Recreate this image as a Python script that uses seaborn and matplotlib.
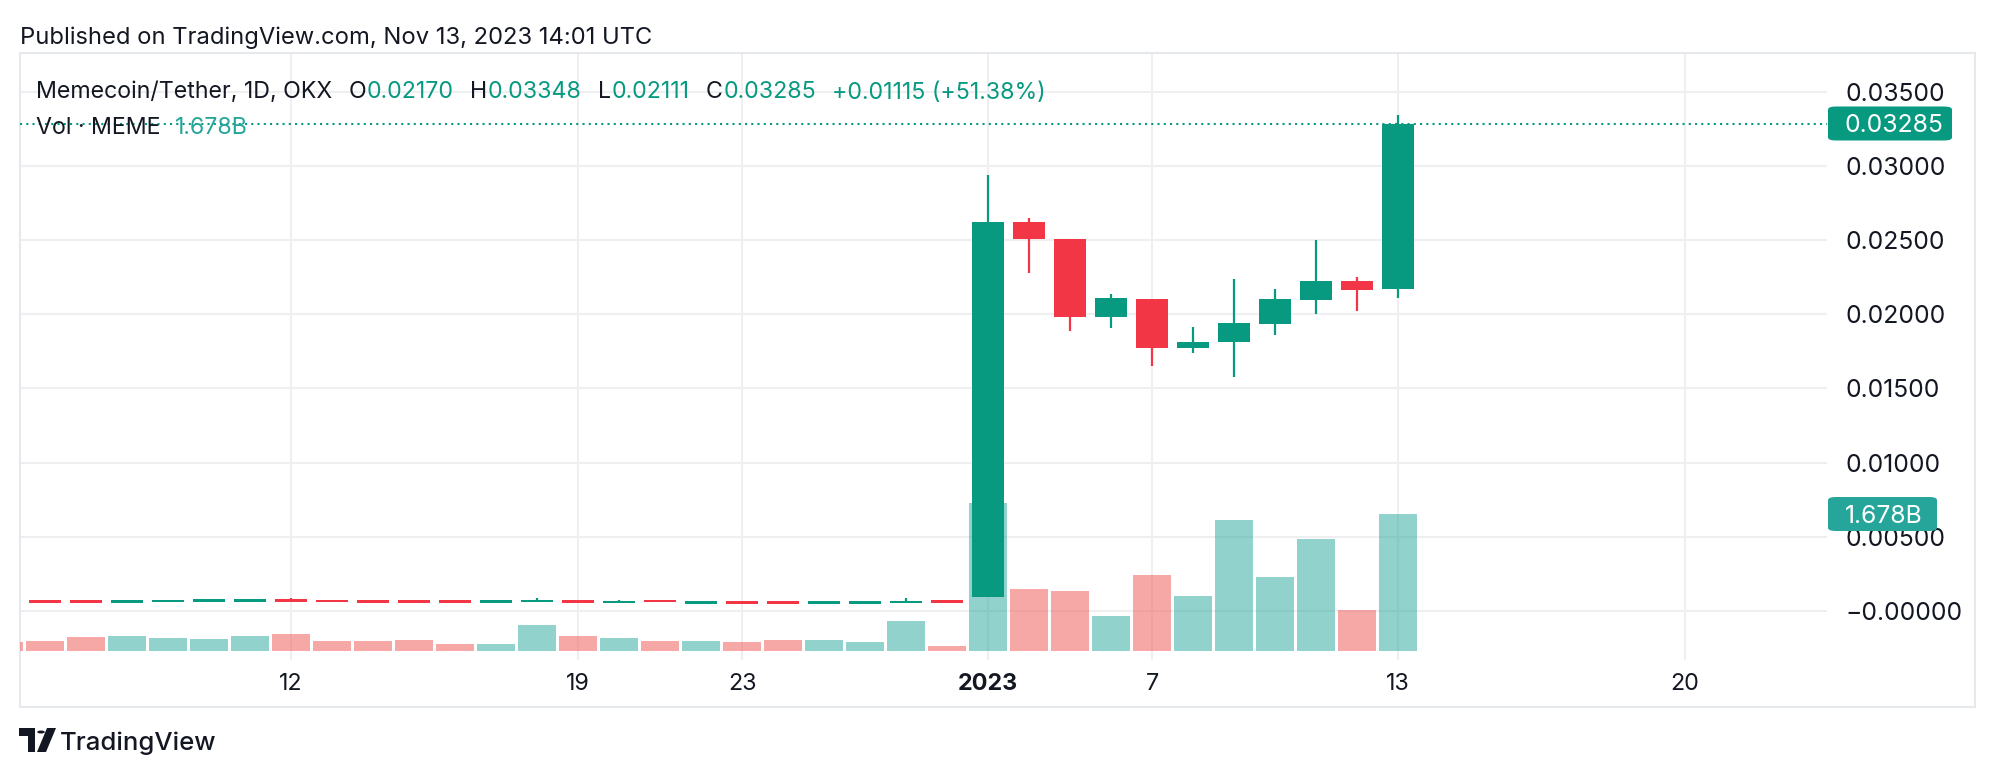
import numpy as np
import pandas as pd
import matplotlib
matplotlib.use("Agg")
import matplotlib.pyplot as plt
import seaborn as sns
from matplotlib.patches import Rectangle, FancyBboxPatch, Polygon, Circle

# ---------------- data ----------------
day_idx = list(range(-1, 34))
opens = [0.00072,
         0.00072, 0.00072, 0.00054, 0.00061, 0.00061, 0.00061, 0.00079, 0.00072,
         0.00072, 0.00072, 0.00072, 0.00054, 0.00061, 0.00072, 0.00054, 0.00066,
         0.00047, 0.00066, 0.00066, 0.00047, 0.00047, 0.00054, 0.00072,
         0.00095, 0.02623, 0.02510, 0.01984, 0.02103, 0.01775, 0.01813, 0.01937,
         0.02099, 0.02225, 0.02170]
highs = [0.00072,
         0.00072, 0.00072, 0.00072, 0.00072, 0.00079, 0.00079, 0.00086, 0.00072,
         0.00072, 0.00072, 0.00072, 0.00072, 0.00086, 0.00072, 0.00072, 0.00066,
         0.00066, 0.00066, 0.00066, 0.00066, 0.00066, 0.00086, 0.00072,
         0.02940, 0.02650, 0.02510, 0.02137, 0.02103, 0.01914, 0.02238, 0.02171,
         0.02501, 0.02252, 0.03348]
lows = [0.00054,
        0.00054, 0.00054, 0.00054, 0.00061, 0.00061, 0.00061, 0.00061, 0.00061,
        0.00054, 0.00054, 0.00054, 0.00054, 0.00061, 0.00054, 0.00054, 0.00059,
        0.00047, 0.00047, 0.00047, 0.00047, 0.00047, 0.00054, 0.00054,
        0.00090, 0.02281, 0.01889, 0.01910, 0.01653, 0.01741, 0.01579, 0.01862,
        0.02004, 0.02024, 0.02111]
closes = [0.00054,
          0.00054, 0.00054, 0.00072, 0.00072, 0.00079, 0.00079, 0.00061, 0.00061,
          0.00054, 0.00054, 0.00054, 0.00072, 0.00072, 0.00054, 0.00066, 0.00059,
          0.00066, 0.00047, 0.00047, 0.00066, 0.00066, 0.00066, 0.00054,
          0.02623, 0.02510, 0.01984, 0.02110, 0.01775, 0.01813, 0.01941, 0.02103,
          0.02225, 0.02166, 0.03285]
volumes_b = [0.11,
             0.12, 0.17, 0.18, 0.16, 0.15, 0.18, 0.21, 0.12,
             0.12, 0.13, 0.086, 0.086, 0.32, 0.18, 0.16, 0.12,
             0.12, 0.11, 0.13, 0.13, 0.11, 0.37, 0.06,
             1.81, 0.76, 0.74, 0.43, 0.93, 0.67, 1.61, 0.91,
             1.37, 0.50, 1.678]

xtick_pos = [6, 13, 17, 23, 27, 33, 40]
xtick_labels = ["12", "19", "23", "2023", "7", "13", "20"]
ytick_vals = [0.0, 0.005, 0.010, 0.015, 0.020, 0.025, 0.030, 0.035]
ytick_labels = ["\u22120.00000", "0.00500", "0.01000", "0.01500", "0.02000",
                "0.02500", "0.03000", "0.03500"]

last_price = 0.03285
last_price_label = "0.03285"
last_vol_label = "1.678B"
header_title = "Memecoin/Tether, 1D, OKX"
header_vals = [("O", "0.02170"), ("H", "0.03348"), ("L", "0.02111"), ("C", "0.03285")]
header_change = "+0.01115 (+51.38%)"
published = "Published on TradingView.com, Nov 13, 2023 14:01 UTC"

# ---------------- style ----------------
sns.set_theme(style="white")
plt.rcParams["font.family"] = ["Inter", "DejaVu Sans"]

UP = "#089981"
DOWN = "#F23645"
VUP = "#26a69a"
VDOWN = "#ef5350"
TXT = "#131722"
GRID = "#EFEFF1"
AXIS_FS = 17.8

W, H = 1996, 778
fig = plt.figure(figsize=(W / 100, H / 100), dpi=100)
fig.patch.set_facecolor("white")

def fx(px):
    return px / W

def fy(py):
    return 1 - py / H

# plot pane geometry (pixels)
L_, R_, T_, B_ = 20, 1827, 53, 660
rect = [fx(L_), fy(B_), fx(R_) - fx(L_), fy(T_) - fy(B_)]

# price scale: y = 610.7 - 14820 * p
p_bot = (610.7 - B_) / 14820
p_top = (610.7 - T_) / 14820
# volume scale: 0 at y=651, 1B = 81.6 px
v_bot = (651 - B_) / 81.6
v_top = (651 - T_) / 81.6
x_left = (L_ - 45) / 41
x_right = (R_ - 45) / 41

axg = fig.add_axes(rect, zorder=0)
axv = fig.add_axes(rect, zorder=1)
axc = fig.add_axes(rect, zorder=2)

for a in (axg, axv, axc):
    a.set_xlim(x_left, x_right)
    for s in a.spines.values():
        s.set_visible(False)
axv.patch.set_alpha(0)
axc.patch.set_alpha(0)

axg.set_ylim(p_bot, p_top)
axc.set_ylim(p_bot, p_top)
axv.set_ylim(v_bot, v_top)

# grid + ticks
axg.set_yticks(ytick_vals)
axg.set_yticklabels(ytick_labels)
axg.yaxis.tick_right()
axg.tick_params(axis="y", length=0, pad=13, labelsize=AXIS_FS, labelcolor=TXT)
axg.set_xticks(xtick_pos)
axg.set_xticklabels(xtick_labels)
axg.tick_params(axis="x", length=0, pad=9, labelsize=16.8, labelcolor=TXT)
for lbl in axg.get_xticklabels():
    if lbl.get_text() == "2023":
        lbl.set_fontweight("bold")
axg.grid(True, color=GRID, linewidth=1.5)
axg.set_axisbelow(True)

for a in (axv, axc):
    a.set_xticks([])
    a.set_yticks([])
    a.grid(False)

df = pd.DataFrame({"idx": day_idx, "open": opens, "high": highs, "low": lows,
                   "close": closes, "vol": volumes_b})
df["dir"] = np.where(df["close"] >= df["open"], "up", "down")

# volume bars
sns.barplot(data=df, x="idx", y="vol", hue="dir", palette={"up": VUP, "down": VDOWN},
            native_scale=True, dodge=False, width=0.95, saturation=1, alpha=0.5,
            linewidth=0, legend=False, ax=axv)
axv.set_xlim(x_left, x_right)
axv.set_ylim(v_bot, v_top)
axv.set_xlabel("")
axv.set_ylabel("")
axv.set_xticks([])
axv.set_yticks([])

# candles
cols = np.where(df["dir"] == "up", UP, DOWN)
axc.vlines(df["idx"], df["low"], df["high"], colors=cols, linewidth=1.6, zorder=2)
body_lo = np.minimum(df["open"], df["close"])
body_h = np.maximum(np.abs(df["close"] - df["open"]), 0.00013)
axc.bar(df["idx"], body_h, bottom=body_lo, width=0.78, color=cols, linewidth=0, zorder=3)
axc.axhline(last_price, color=UP, linewidth=1.5, linestyle=(0, (1, 2)), zorder=1)
axc.set_xlim(x_left, x_right)
axc.set_ylim(p_bot, p_top)

# container border
fig.add_artist(Rectangle((fx(20), fy(707)), fx(1975) - fx(20), fy(53) - fy(707),
                         transform=fig.transFigure, fill=False, edgecolor="#E6E8EE",
                         linewidth=1.5, zorder=0.5))

# price / volume label boxes
def label_box(y_c, text, color, x0, x1, h=34):
    fig.add_artist(FancyBboxPatch((fx(x0), fy(y_c + h / 2)), fx(x1) - fx(x0), (h / H),
                                  boxstyle="round,pad=0,rounding_size=0.004",
                                  transform=fig.transFigure, facecolor=color,
                                  edgecolor="none", zorder=5))
    fig.text(fx(1845), fy(y_c), text, color="white", fontsize=AXIS_FS, ha="left",
             va="center_baseline", zorder=6)

label_box(123.5, last_price_label, UP, 1828, 1952)
label_box(514, last_vol_label, VUP, 1828, 1937)

# header texts
fig.text(fx(20), fy(35), published, color=TXT, fontsize=17.1, ha="left", va="center_baseline")

renderer = fig.canvas.get_renderer()

def seq(x_px, y_px, pieces, size):
    x = x_px
    for s, col, gap in pieces:
        x += gap
        t = fig.text(fx(x), fy(y_px), s, color=col, fontsize=size, ha="left",
                     va="center_baseline")
        bb = t.get_window_extent(renderer)
        x += bb.width

pieces = [(header_title, TXT, 0)]
for k, v in header_vals:
    pieces.append((k, TXT, 16))
    pieces.append((v, UP, 1))
pieces.append((header_change, UP, 16))
seq(36, 90, pieces, 16.7)

seq(36, 125, [("Vol \u00b7 MEME", TXT, 0), (last_vol_label, VUP, 14)], 16.7)

# TradingView logo + text
fig.add_artist(Polygon([(fx(19), fy(728)), (fx(35), fy(728)), (fx(35), fy(752)),
                        (fx(27.5), fy(752)), (fx(27.5), fy(735.5)), (fx(19), fy(735.5))],
                       closed=True, transform=fig.transFigure, facecolor=TXT, edgecolor="none"))
fig.add_artist(Circle((fx(41), fy(732)), 3.8 / W, transform=fig.transFigure,
                      facecolor=TXT, edgecolor="none"))
fig.add_artist(Polygon([(fx(47), fy(728)), (fx(56), fy(728)), (fx(46), fy(752)),
                        (fx(37), fy(752))], closed=True, transform=fig.transFigure,
                       facecolor=TXT, edgecolor="none"))
fig.text(fx(60), fy(741), "TradingView", color=TXT, fontsize=18.5, ha="left",
         va="center_baseline", fontweight="medium")

fig.savefig("out.png", dpi=100, facecolor="white")
